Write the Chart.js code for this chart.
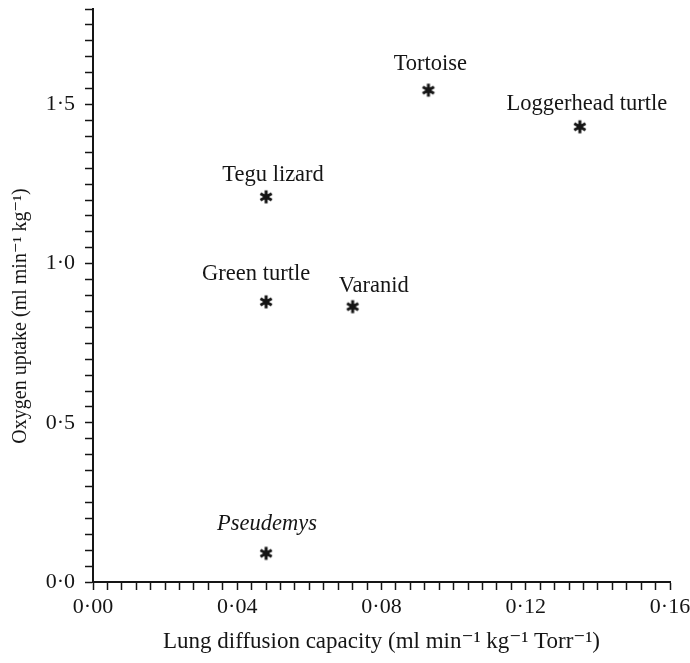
<!DOCTYPE html>
<html>
<head>
<meta charset="utf-8">
<script src="https://cdn.jsdelivr.net/npm/chart.js@4.4.1/dist/chart.umd.min.js"></script>
<style>
  html, body { margin: 0; padding: 0; background: #fff; }
  #wrap { width: 690px; height: 663px; position: relative; }
</style>
</head>
<body>
<div id="wrap"><canvas id="chart"></canvas></div>
<script>
// species and their values
const species = ['Tortoise', 'Loggerhead turtle', 'Tegu lizard', 'Green turtle', 'Varanid', 'Pseudemys'];
const diffusion = [0.093, 0.135, 0.048, 0.048, 0.072, 0.048];   // ml min-1 kg-1 Torr-1
const uptake = [1.545, 1.43, 1.21, 0.88, 0.865, 0.09];          // ml min-1 kg-1
// label nudges (px) relative to each star
const labelDx = [2, 7, 7, -10, 21, 1];
const labelDy = [-20, -17, -16, -22, -15, -23];

const xMajor = 0.04, yMajor = 0.5;
const FONT = '"Liberation Serif", "DejaVu Serif", serif';
const INK = '#151515';

function fmt(v, step, digits) {
  let r = v / step;
  if (Math.abs(r - Math.round(r)) > 1e-6) return '';
  return v.toFixed(digits).replace('.', '\u00b7');
}

// six-armed asterisk used as marker
function makeStar() {
  let c = document.createElement('canvas');
  c.width = 16; c.height = 16;
  let g = c.getContext('2d');
  g.strokeStyle = INK;
  g.lineWidth = 3;
  for (let k = 0; k < 3; k++) {
    let a = Math.PI / 2 + k * Math.PI / 3;
    g.beginPath();
    g.moveTo(8 - 6.5 * Math.cos(a), 8 - 6.5 * Math.sin(a));
    g.lineTo(8 + 6.5 * Math.cos(a), 8 + 6.5 * Math.sin(a));
    g.stroke();
  }
  g.beginPath();
  g.arc(8, 8, 3, 0, Math.PI * 2);
  g.fillStyle = INK;
  g.fill();
  return c;
}

const pointLabels = {
  id: 'pointLabels',
  afterDatasetsDraw(chart) {
    let ctx = chart.ctx;
    let xs = chart.scales.x, ys = chart.scales.y;
    ctx.save();
    ctx.fillStyle = INK;
    ctx.textAlign = 'center';
    ctx.textBaseline = 'alphabetic';
    species.forEach((name, i) => {
      let px = xs.getPixelForValue(diffusion[i]);
      let py = ys.getPixelForValue(uptake[i]);
      ctx.font = (name === 'Pseudemys' ? 'italic ' : '') + '22.5px ' + FONT;
      ctx.fillText(name, px + labelDx[i], py + labelDy[i]);
    });
    // y axis title
    ctx.translate(21, 316);
    ctx.rotate(-Math.PI / 2);
    ctx.font = '20px ' + FONT;
    ctx.textBaseline = 'middle';
    ctx.fillText('Oxygen uptake (ml min\u207b\u00b9 kg\u207b\u00b9)', 0, 0);
    ctx.restore();
  }
};

new Chart(document.getElementById('chart'), {
  type: 'scatter',
  data: {
    datasets: [{
      data: species.map((s, i) => ({ x: diffusion[i], y: uptake[i] })),
      pointStyle: makeStar(),
      pointRadius: 8,
      pointHoverRadius: 8
    }]
  },
  options: {
    responsive: true,
    maintainAspectRatio: false,
    animation: false,
    layout: { padding: { top: 7, right: 20, left: 0, bottom: 0 } },
    plugins: { legend: { display: false }, tooltip: { enabled: false } },
    scales: {
      x: {
        type: 'linear',
        min: 0, max: 0.16,
        afterFit(s) { s.height = 81; s.paddingLeft = 0; s.paddingRight = 0; },
        border: { color: INK, width: 2 },
        grid: { drawOnChartArea: false, tickLength: 8, tickColor: INK, tickWidth: 1.5 },
        ticks: {
          stepSize: 0.004,
          autoSkip: false,
          maxRotation: 0,
          padding: 4,
          color: INK,
          font: { family: FONT, size: 22 },
          callback: v => fmt(v, xMajor, 2)
        },
        title: {
          display: true,
          text: 'Lung diffusion capacity (ml min\u207b\u00b9 kg\u207b\u00b9 Torr\u207b\u00b9)',
          color: INK,
          font: { family: FONT, size: 23 },
          padding: { top: 0, bottom: 7 }
        }
      },
      y: {
        type: 'linear',
        min: 0, max: 1.8,
        afterFit(s) { s.width = 93; s.paddingTop = 0; s.paddingBottom = 0; },
        border: { color: INK, width: 2 },
        grid: { drawOnChartArea: false, tickLength: 8, tickColor: INK, tickWidth: 1.5 },
        ticks: {
          stepSize: 0.05,
          autoSkip: false,
          padding: 10,
          color: INK,
          font: { family: FONT, size: 22 },
          callback: v => fmt(v, yMajor, 1)
        }
      }
    }
  },
  plugins: [pointLabels]
});
</script>
</body>
</html>
